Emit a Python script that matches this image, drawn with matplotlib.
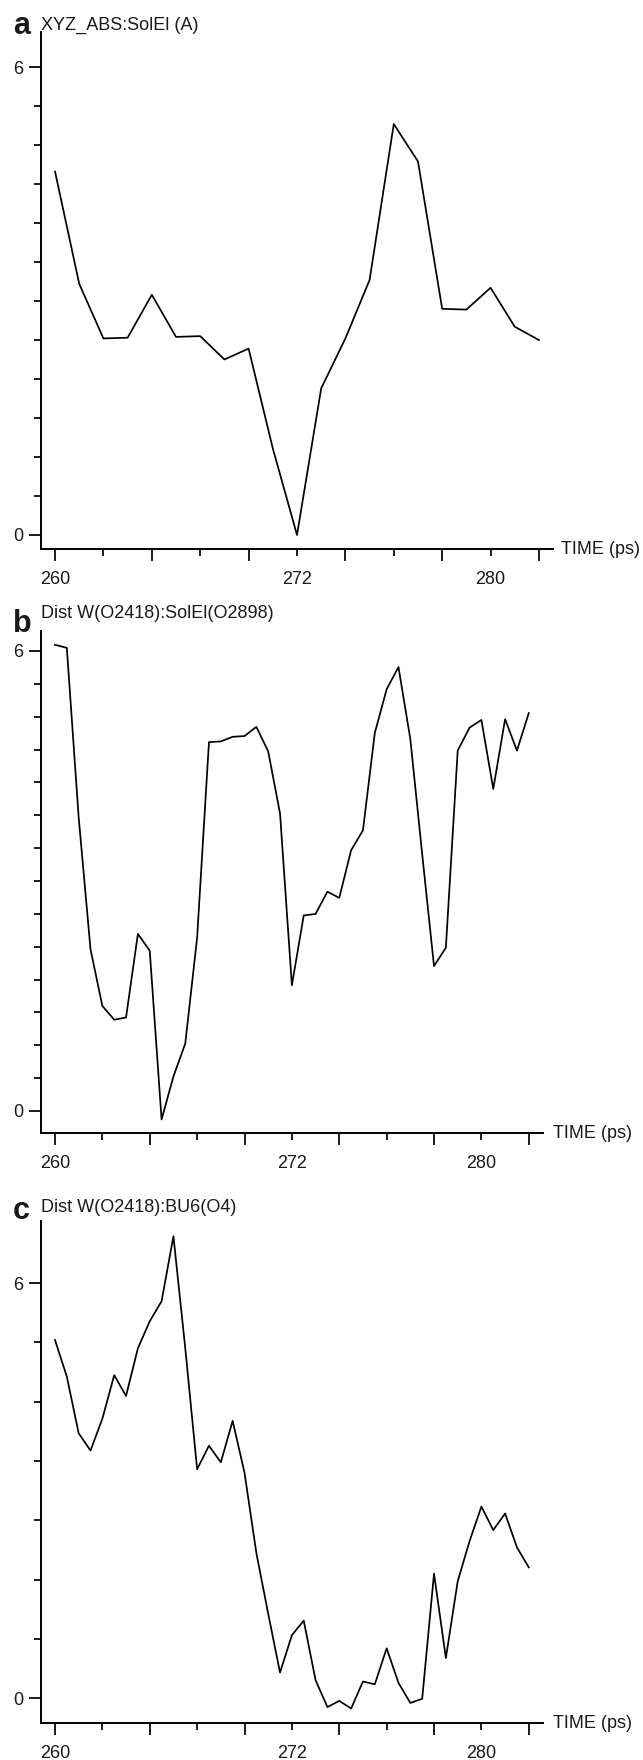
import numpy as np
import matplotlib
matplotlib.use("Agg")
import matplotlib.pyplot as plt

plt.rcParams['font.family'] = ['Liberation Sans', 'DejaVu Sans']

W, H = 643, 1760
DPI = 100

# x axis is in tick units; the original labels are irregular (260 / 272 / 280)
xtick_pos = list(range(11))
xtick_labels = ['260', '', '', '', '', '272', '', '', '', '280', '']

# panel a: one frame every half tick
time_a = np.arange(21) * 0.5
solel_abs = [4.66, 3.22, 2.52, 2.53, 3.08, 2.54, 2.55, 2.25, 2.39, 1.11, 0.0,
             1.88, 2.52, 3.27, 5.27, 4.79, 2.90, 2.89, 3.17, 2.67, 2.50]

# panels b, c: one frame every quarter tick
time_bc = np.arange(41) * 0.25
dist_solel = [6.08, 6.04, 3.83, 2.11, 1.37, 1.19, 1.22, 2.31, 2.09, -0.11,
              0.45, 0.88, 2.26, 4.81, 4.82, 4.88, 4.89, 5.01, 4.69, 3.88,
              1.64, 2.55, 2.57, 2.86, 2.78, 3.40, 3.66, 4.93, 5.50, 5.79,
              4.85, 3.35, 1.89, 2.13, 4.70, 5.00, 5.10, 4.20, 5.11, 4.70, 5.19]
dist_bu6 = [5.18, 4.65, 3.83, 3.58, 4.04, 4.67, 4.37, 5.06, 5.45, 5.74,
            6.68, 5.06, 3.31, 3.65, 3.41, 4.01, 3.26, 2.10, 1.22, 0.37,
            0.91, 1.12, 0.26, -0.13, -0.04, -0.15, 0.24, 0.20, 0.72, 0.22,
            -0.07, -0.01, 1.80, 0.58, 1.69, 2.27, 2.77, 2.43, 2.67, 2.18, 1.89]


def add_panel(fig, box, t, y, xlim, ylim, yticks, letter, title, letter_y, title_y, time_dx):
    left, top, right, bottom = box
    ax = fig.add_axes([left / W, 1 - bottom / H, (right - left) / W, (bottom - top) / H])
    ax.plot(t, y, color='black', lw=1.25)
    ax.set_xlim(xlim)
    ax.set_ylim(ylim)
    for s in ['top', 'right']:
        ax.spines[s].set_visible(False)
    for s in ['left', 'bottom']:
        ax.spines[s].set_linewidth(1.4)

    ax.set_xticks(xtick_pos)
    ax.set_xticklabels(xtick_labels)
    ax.set_yticks(yticks)
    ax.set_yticklabels(['0' if v == 0 else '6' if v == 6 else '' for v in yticks])
    ax.tick_params(axis='x', length=8.6, width=1.4, pad=7, labelsize=13, colors='#1a1a1a')
    ax.tick_params(axis='y', length=8.6, width=1.4, pad=4, labelsize=13, colors='#1a1a1a')
    for i, tk in enumerate(ax.xaxis.get_major_ticks()):
        if i % 2:
            tk.tick1line.set_markersize(5)
    for tk, v in zip(ax.yaxis.get_major_ticks(), yticks):
        if v not in (0, 6):
            tk.tick1line.set_markersize(5)

    ax.annotate('TIME (ps)', xy=(1, 0), xycoords='axes fraction',
                xytext=(time_dx * 72 / DPI, 0), textcoords='offset points',
                ha='left', va='center', fontsize=13, color='#1a1a1a')
    fig.text(13 / W, 1 - letter_y / H, letter, fontsize=22, fontweight='bold',
             va='baseline', ha='left', color='#1a1a1a')
    fig.text(41 / W, 1 - title_y / H, title, fontsize=13, va='center', ha='left',
             color='#1a1a1a')
    return ax


fig = plt.figure(figsize=(W / DPI, H / DPI), dpi=DPI)

add_panel(fig, (41, 32, 553, 549), time_a, solel_abs,
          (-0.29, 10.29), (-0.18, 6.45), np.arange(0, 6.01, 0.5),
          'a', 'XYZ_ABS:SolEl (A)', 34, 25, 8)
add_panel(fig, (41, 631, 543, 1133), time_bc, dist_solel,
          (-0.295, 10.3), (-0.287, 6.26), np.linspace(0, 6, 15),
          'b', 'Dist W(O2418):SolEl(O2898)', 632, 613, 10)
add_panel(fig, (41, 1221, 543, 1723), time_bc, dist_bu6,
          (-0.295, 10.3), (-0.36, 6.9), np.linspace(0, 6, 8),
          'c', 'Dist W(O2418):BU6(O4)', 1219, 1207, 10)

fig.savefig('out.png', dpi=DPI)
